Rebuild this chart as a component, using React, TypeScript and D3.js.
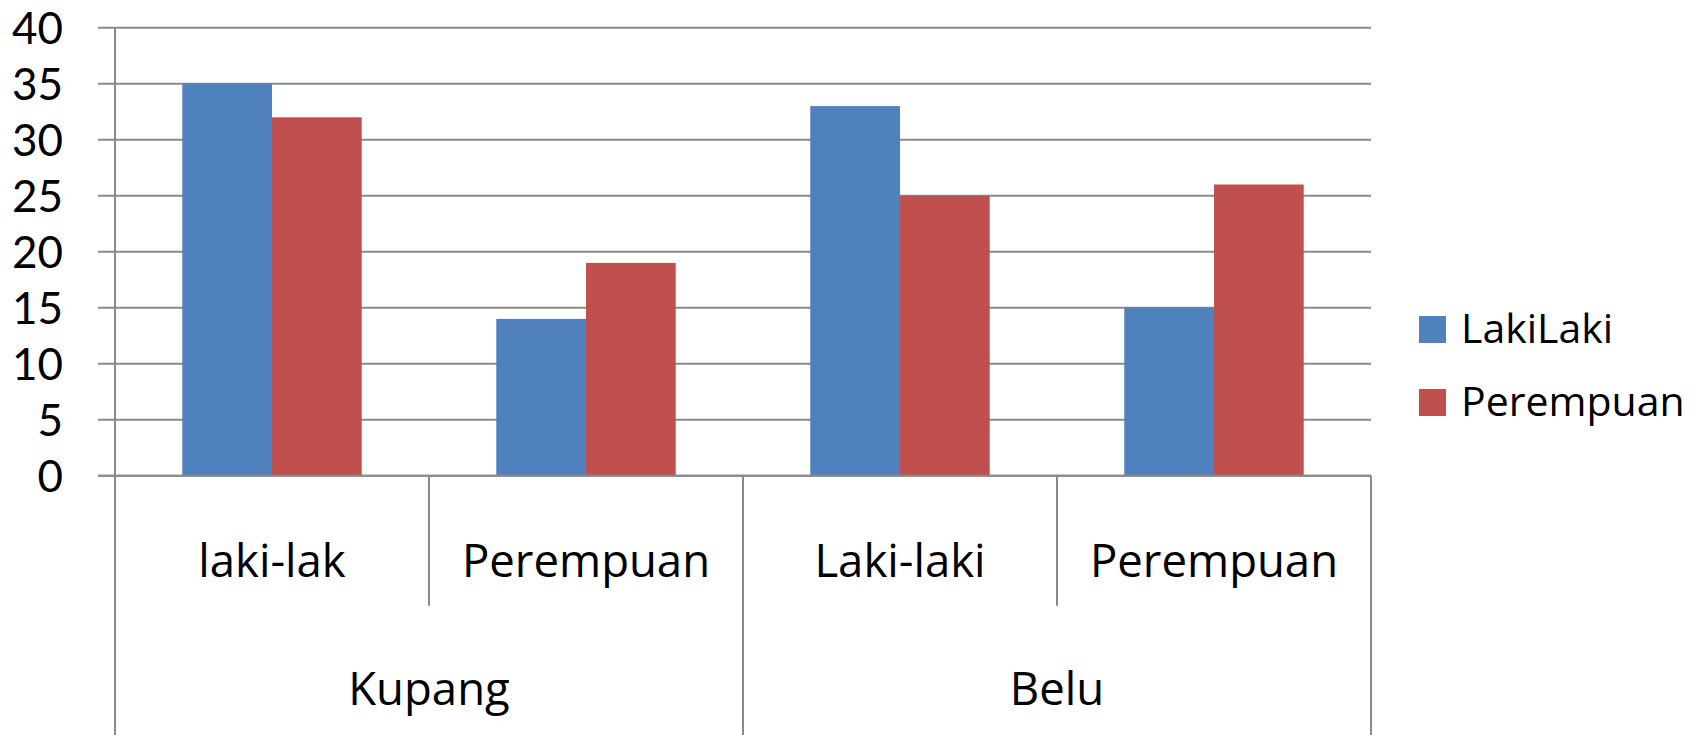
import React from "react";
import * as d3 from "d3";

const regions = ["Kupang", "Belu"];
const subcategories = ["laki-lak", "Perempuan", "Laki-laki", "Perempuan"];
const seriesNames = ["LakiLaki", "Perempuan"];
const lakiValues = [35, 14, 33, 15];
const perempuanValues = [32, 19, 25, 26];
const yTicks = [0, 5, 10, 15, 20, 25, 30, 35, 40];
const colors = ["#4F81BD", "#C0504D"];

const W = 1698;
const H = 735;
const left = 115;
const right = 1371;
const top = 27.7;
const bottom = 475.7;
const grid = "#8a8a8a";
const font = "Lato, 'Noto Sans', sans-serif";
const labelFont = "'Open Sans', Lato, sans-serif";

export default function App() {
  const idx = subcategories.map((_, i) => String(i));
  const x = d3.scaleBand<string>().domain(idx).range([left, right]).paddingInner(0).paddingOuter(0);
  const xs = d3.scaleBand<string>().domain(seriesNames).range([0, x.bandwidth()]).paddingInner(0).paddingOuter(0.75);
  const y = d3.scaleLinear().domain([0, 40]).range([bottom, top]);
  const series = [lakiValues, perempuanValues];
  const groupWidth = x.bandwidth() * 2;

  return (
    <svg width={W} height={H} style={{ position: "absolute", left: 0, top: 0, background: "#fff" }}>
      {yTicks.map((t) => (
        <g key={t}>
          <line x1={98} x2={right} y1={y(t)} y2={y(t)} stroke={grid} strokeWidth={2} />
          <text x={63} y={y(t)} dy="0.36em" textAnchor="end" fontFamily={font} fontSize={44} fill="#000">
            {t}
          </text>
        </g>
      ))}
      {series.map((vals, s) =>
        vals.map((v, i) => (
          <rect
            key={`${s}-${i}`}
            x={(x(String(i)) as number) + (xs(seriesNames[s]) as number)}
            y={y(v)}
            width={xs.bandwidth()}
            height={y(0) - y(v)}
            fill={colors[s]}
          />
        ))
      )}
      <line x1={98} x2={right} y1={y(0)} y2={y(0)} stroke={grid} strokeWidth={2} />
      <line x1={left} x2={left} y1={top} y2={H} stroke={grid} strokeWidth={2} />
      {idx.map((d, i) => {
        const x0 = x(d) as number;
        const major = i % 2 === 0;
        return (
          <line key={`t${i}`} x1={x0} x2={x0} y1={y(0)} y2={major ? H : 605.7} stroke={grid} strokeWidth={2} />
        );
      })}
      <line x1={right} x2={right} y1={y(0)} y2={H} stroke={grid} strokeWidth={2} />
      {subcategories.map((c, i) => (
        <text
          key={`c${i}`}
          x={(x(String(i)) as number) + x.bandwidth() / 2}
          y={576.7}
          textAnchor="middle"
          fontFamily={labelFont}
          fontSize={45.5}
          fill="#000"
        >
          {c}
        </text>
      ))}
      {regions.map((r, i) => (
        <text
          key={`r${i}`}
          x={(x(String(i * 2)) as number) + groupWidth / 2}
          y={705}
          textAnchor="middle"
          fontFamily={labelFont}
          fontSize={45.5}
          fill="#000"
        >
          {r}
        </text>
      ))}
      {seriesNames.map((n, i) => (
        <g key={`l${i}`}>
          <rect x={1419} y={316 + i * 73} width={27} height={27} fill={colors[i]} />
          <text x={1461} y={342.7 + i * 73} fontFamily={labelFont} fontSize={41} fill="#000">
            {n}
          </text>
        </g>
      ))}
    </svg>
  );
}
